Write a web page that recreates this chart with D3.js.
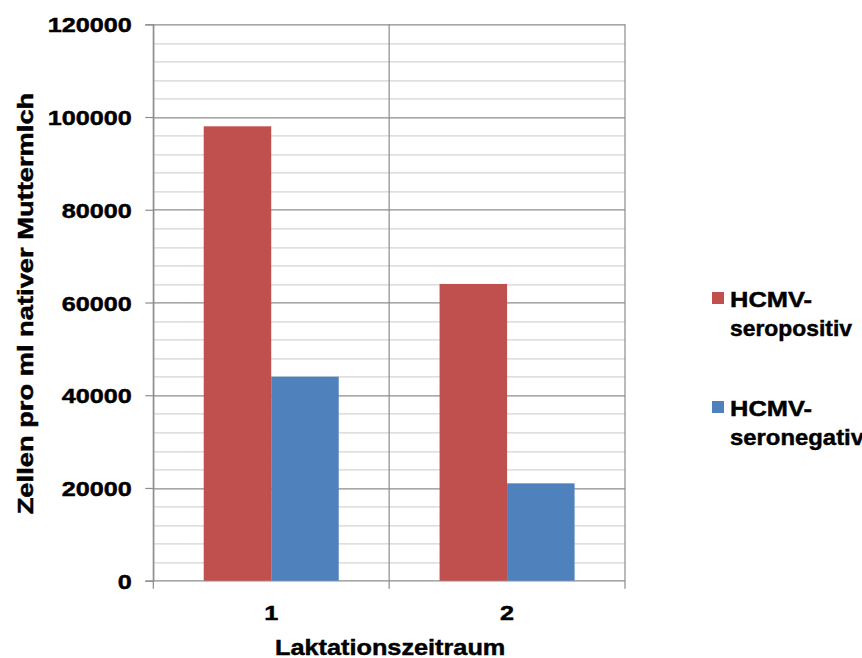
<!DOCTYPE html>
<html>
<head>
<meta charset="utf-8">
<script src="https://cdn.jsdelivr.net/npm/d3@7"></script>
<style>
  html, body { margin: 0; padding: 0; background: #fff; }
  svg text { font-family: "Liberation Sans", Arial, sans-serif; font-weight: bold; fill: #000; stroke: #000; stroke-width: 0.45px; }
</style>
</head>
<body>
<svg id="chart" width="862" height="658"></svg>
<script>
const categories = ["1", "2"];
const seriesNames = ["HCMV-seropositiv", "HCMV-seronegativ"];
const legendLines = [["HCMV-", "seropositiv"], ["HCMV-", "seronegativ"]];
const seropositiv = [98000, 64000];
const seronegativ = [44000, 21000];
const yTicks = [0, 20000, 40000, 60000, 80000, 100000, 120000];
const yMinorStep = 4000;
const colors = ["#C0504D", "#4F81BD"];
const yTitle = "Zellen pro ml nativer  Muttermlch";
const xTitle = "Laktationszeitraum";

const svg = d3.select("#chart");
const margin = {left: 153.3, right: 237, top: 24.3, bottom: 77.3};
const W = 862, H = 658;
const iw = W - margin.left - margin.right;
const ih = H - margin.top - margin.bottom;
const g = svg.append("g").attr("transform", `translate(${margin.left},${margin.top})`);

const y = d3.scaleLinear().domain([0, 120000]).range([ih, 0]);
const x0 = d3.scaleBand().domain(categories).range([0, iw]).padding(0);
const x1 = d3.scaleBand().domain(seriesNames).range([0, x0.bandwidth()]).paddingInner(0).paddingOuter(0.747);

const stretch = 1.2;

// minor gridlines
const minor = d3.range(0, 120001, yMinorStep).filter(v => !yTicks.includes(v));
g.selectAll(".minor").data(minor).enter().append("line")
  .attr("x1", 0).attr("x2", iw)
  .attr("y1", d => Math.round(y(d)) + 0.5).attr("y2", d => Math.round(y(d)) + 0.5)
  .attr("stroke", "#d4d4d4").attr("stroke-width", 1.3);

// major gridlines
g.selectAll(".major").data(yTicks).enter().append("line")
  .attr("x1", 0).attr("x2", iw)
  .attr("y1", d => Math.round(y(d)) + 0.5).attr("y2", d => Math.round(y(d)) + 0.5)
  .attr("stroke", "#8c8c8c").attr("stroke-width", 1.2);

// vertical category lines
const bounds = categories.map(c => x0(c)).concat([iw]);
g.selectAll(".vline").data(bounds).enter().append("line")
  .attr("x1", d => d).attr("x2", d => d)
  .attr("y1", 0).attr("y2", ih + 8)
  .attr("stroke", "#8c8c8c").attr("stroke-width", 1.2);

// bars
const seriesData = [seropositiv, seronegativ];
seriesNames.forEach((s, si) => {
  g.selectAll(".bar" + si).data(categories).enter().append("rect")
    .attr("x", c => x0(c) + x1(s))
    .attr("width", x1.bandwidth())
    .attr("y", (c, i) => y(seriesData[si][i]))
    .attr("height", (c, i) => ih - y(seriesData[si][i]))
    .attr("fill", colors[si]);
});

// y axis
const yAxis = g.append("g").call(d3.axisLeft(y).tickValues(yTicks).tickSize(8).tickFormat(d3.format("d")));
yAxis.select(".domain").attr("stroke", "#8c8c8c").attr("stroke-width", 1.2);
yAxis.selectAll(".tick line").attr("stroke", "#8c8c8c").attr("stroke-width", 1.2);
yAxis.selectAll(".tick text")
  .attr("x", null).attr("dy", "0.36em")
  .attr("transform", `translate(-21.5,0) scale(${stretch},1)`)
  .style("font-size", "21px").style("font-family", '"Liberation Sans", Arial, sans-serif')
  .style("font-weight", "bold").attr("fill", "#000");

// x labels
g.selectAll(".xlab").data(categories).enter().append("text")
  .attr("transform", c => `translate(${x0(c) + x0.bandwidth() / 2},${ih + 39.5}) scale(${stretch},1)`)
  .attr("text-anchor", "middle").style("font-size", "21px").text(c => c);

// x title
svg.append("text")
  .attr("transform", `translate(${margin.left + iw / 2 + 1},${H - 3.5}) scale(1.15,1)`)
  .attr("text-anchor", "middle").style("font-size", "22px").text(xTitle);

// y title
svg.append("text")
  .attr("transform", `translate(32.5,303.5) rotate(-90) scale(1.27,1)`)
  .attr("text-anchor", "middle").style("font-size", "21.5px").text(yTitle);

// legend
const legendY = [292, 401];
const legendWidths = [[82, 122], [82, 134]];
seriesNames.forEach((s, i) => {
  const lg = svg.append("g").attr("transform", `translate(712,${legendY[i]})`);
  lg.append("rect").attr("width", 12).attr("height", 12).attr("fill", colors[i]);
  legendLines[i].forEach((line, li) => {
    lg.append("text")
      .attr("x", 18).attr("y", 14.5 + li * 29.5)
      .attr("textLength", legendWidths[i][li]).attr("lengthAdjust", "spacingAndGlyphs")
      .style("font-size", "22px").text(line);
  });
});
</script>
</body>
</html>
